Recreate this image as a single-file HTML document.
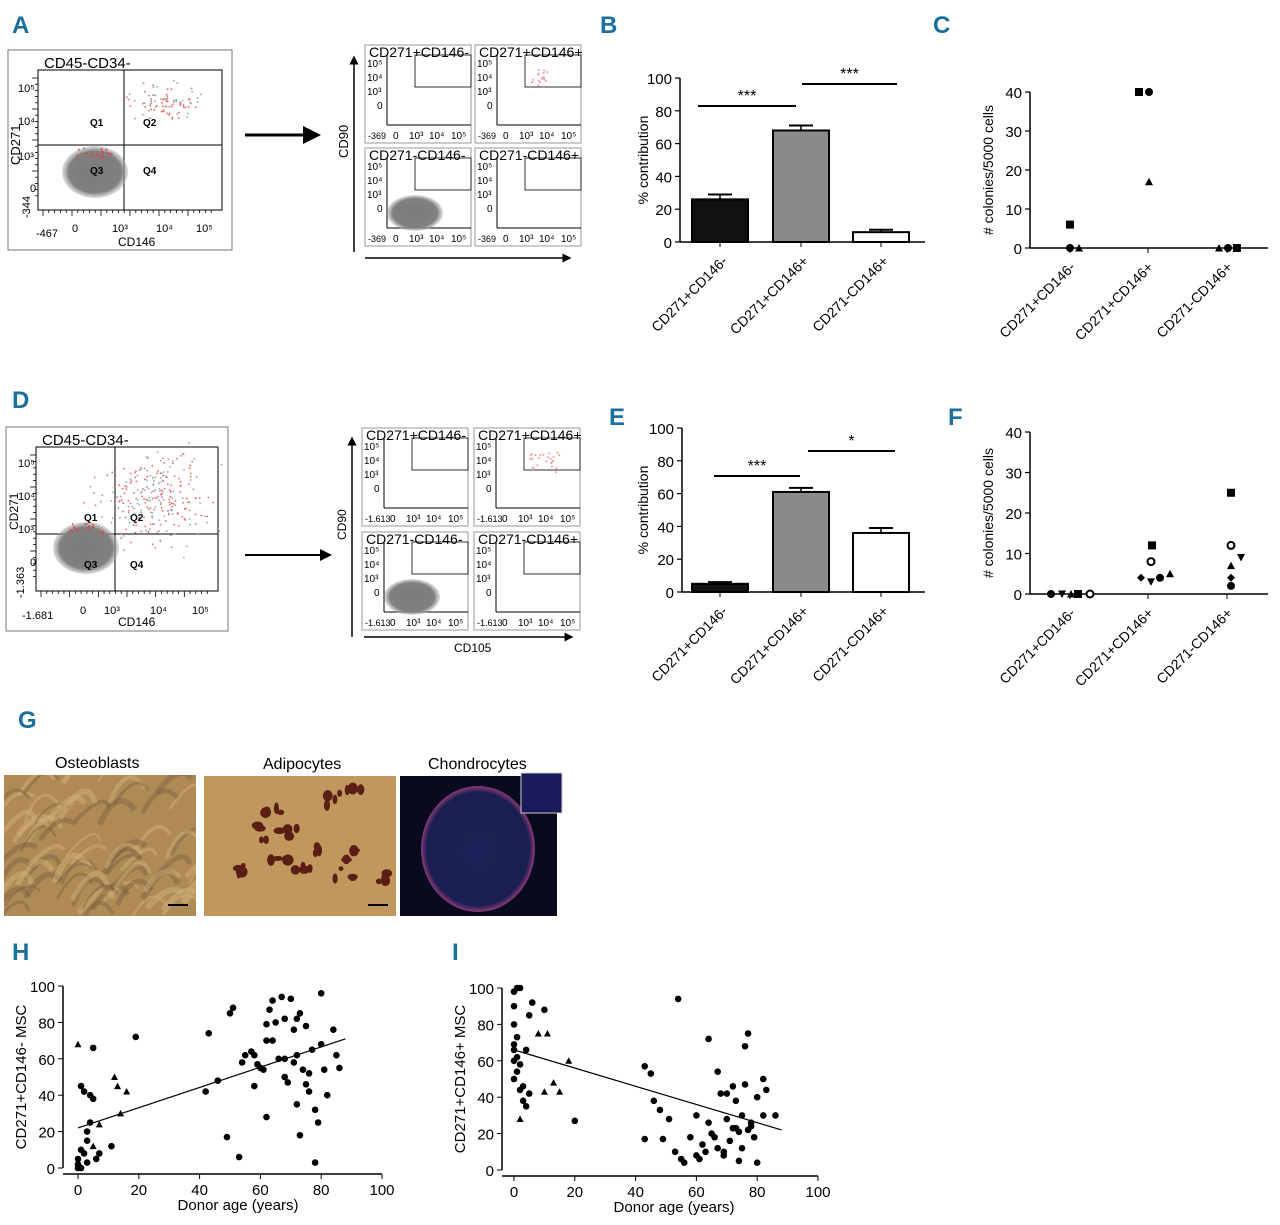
<!DOCTYPE html>
<html><head><meta charset="utf-8"><style>
html,body{margin:0;padding:0;background:#fff;width:1280px;height:1225px;overflow:hidden}
svg{display:block;font-family:"Liberation Sans Narrow","Liberation Sans",sans-serif}
.L{fill:#1a6f9e;font-weight:bold;font-size:24px;font-family:"Liberation Sans Narrow","Liberation Sans",sans-serif}
</style></head><body>
<svg id="s" width="1280" height="1225" viewBox="0 0 1280 1225" xmlns="http://www.w3.org/2000/svg">
<defs>
<marker id="ah" markerWidth="6" markerHeight="6" refX="5" refY="3" orient="auto"><path d="M0,0 L6,3 L0,6 z" fill="#000"/></marker>
<radialGradient id="blob"><stop offset="0" stop-color="#7a7a7a"/><stop offset="0.8" stop-color="#808080"/><stop offset="1" stop-color="#aaa" stop-opacity="0.4"/></radialGradient>
<radialGradient id="ch"><stop offset="0" stop-color="#1c2258"/><stop offset="0.9" stop-color="#1a1e50"/><stop offset="1" stop-color="#8a3a78"/></radialGradient>
<clipPath id="oc"><rect x="4" y="775" width="192" height="141"/></clipPath>
</defs>
<text class="L" x="12" y="33">A</text><text class="L" x="600" y="33">B</text><text class="L" x="933" y="33">C</text>
<text class="L" x="12" y="408">D</text><text class="L" x="609" y="425">E</text><text class="L" x="948" y="425">F</text>
<text class="L" x="18" y="728">G</text><text class="L" x="12" y="960">H</text><text class="L" x="452" y="960">I</text>
<g id="dyn"></g>
</svg>
<script>
const S=document.getElementById('dyn');let h='';
function t(x,y,s,fs,extra){h+=`<text x="${x}" y="${y}" font-size="${fs||13}" ${extra||''}>${s}</text>`;}
function ln(x1,y1,x2,y2,w,extra){h+=`<line x1="${x1}" y1="${y1}" x2="${x2}" y2="${y2}" stroke="#000" stroke-width="${w||1}" ${extra||''}/>`;}
let seed=3;function r(){seed=(seed*9301+49297)%233280;return seed/233280;}
function g(){return (r()+r()+r()-1.5);}
function flow(x,y,w,h2,title,ox,oy,qx,qy,labs,scat,cx,cy,sx,sy){
 h+=`<rect x="${x}" y="${y}" width="${w}" height="${h2}" fill="#fff" stroke="#777"/>`;
 t(x+36,y+18,title,15);
 const px=x+30,py=y+20,pw=w-40,ph=h2-60;
 h+=`<rect x="${px}" y="${py}" width="${pw}" height="${ph}" fill="none" stroke="#000"/>`;
 ln(qx,py,qx,py+ph);ln(px,qy,px+pw,qy);
 for(let i=0;i<scat;i++){const a=cx+g()*sx,b=cy+g()*sy;h+=`<circle cx="${a}" cy="${b}" r="0.9" fill="${r()<0.65?'#e66':'#8ab'}"/>`;}
 h+=`<ellipse cx="${ox}" cy="${oy}" rx="33" ry="26" fill="url(#blob)"/>`;
 for(let i=0;i<25;i++)h+=`<circle cx="${ox-18+r()*36}" cy="${oy-24+r()*10}" r="0.9" fill="#d44"/>`;
 labs.forEach(l=>t(l[0],l[1],l[2],l[3]||11,l[4]||''));
 for(let i=0;i<30;i++)ln(px+5+i*(pw-10)/30,py+ph,px+5+i*(pw-10)/30,py+ph+(i%5?3:6),0.8);
 for(let i=0;i<20;i++)ln(px,py+8+i*(ph-16)/20,px-(i%5?3:6),py+8+i*(ph-16)/20,0.8);
}
flow(8,50,224,200,'CD45-CD34-',95,172,124,145,[[90,126,'Q1',10,'font-weight="bold"'],[143,126,'Q2',10,'font-weight="bold"'],[90,174,'Q3',10,'font-weight="bold"'],[143,174,'Q4',10,'font-weight="bold"'],[18,92,'10⁵'],[18,125,'10⁴'],[18,160,'10³'],[30,192,'0'],[36,237,'-467'],[72,232,'0'],[112,232,'10³'],[156,232,'10⁴'],[196,232,'10⁵'],[118,246,'CD146',12],[20,165,'CD271',13,'transform="rotate(-90 20 165)"'],[30,218,'-344',11,'transform="rotate(-90 30 218)"']],90,168,102,30,18);
flow(6,427,222,204,'CD45-CD34-',86,548,115,534,[[84,521,'Q1',10,'font-weight="bold"'],[130,521,'Q2',10,'font-weight="bold"'],[84,568,'Q3',10,'font-weight="bold"'],[130,568,'Q4',10,'font-weight="bold"'],[18,467,'10⁵'],[18,500,'10⁴'],[18,533,'10³'],[30,566,'0'],[22,619,'-1.681'],[80,614,'0'],[104,614,'10³'],[150,614,'10⁴'],[192,614,'10⁵'],[118,626,'CD146',12],[18,530,'CD271',12,'transform="rotate(-90 18 530)"'],[24,598,'-1.363',11,'transform="rotate(-90 24 598)"']],260,155,500,55,45);
ln(245,135,318,135,3,'marker-end="url(#ah)"');ln(245,555,330,555,2,'marker-end="url(#ah)"');
function sub(x,y,ti,blob,lx){
 h+=`<rect x="${x}" y="${y}" width="106" height="98" fill="#fff" stroke="#999"/>`;
 t(x+4,y+12,ti,14);
 ln(x+22,y+10,x+22,y+80,1);ln(x+22,y+80,x+106,y+80,1);
 h+=`<rect x="${x+50}" y="${y+10}" width="56" height="32" fill="none" stroke="#000" stroke-width="0.8"/>`;
 t(x+2,y+22,'10⁵',10);t(x+2,y+36,'10⁴',10);t(x+2,y+50,'10³',10);t(x+12,y+64,'0',10);
 t(x+3,y+94,lx,9);t(x+28,y+94,'0',10);t(x+44,y+94,'10³',10);t(x+64,y+94,'10⁴',10);t(x+86,y+94,'10⁵',10);
 if(blob)h+=`<ellipse cx="${x+50}" cy="${y+65}" rx="28" ry="18" fill="url(#blob)"/>`;
}
sub(365,45,'CD271+CD146-',0,'-369');sub(475,45,'CD271+CD146+',0,'-369');sub(365,148,'CD271-CD146-',1,'-369');sub(475,148,'CD271-CD146+',0,'-369');
sub(362,428,'CD271+CD146-',0,'-1.613');sub(474,428,'CD271+CD146+',0,'-1.613');sub(362,532,'CD271-CD146-',1,'-1.613');sub(474,532,'CD271-CD146+',0,'-1.613');
for(let i=0;i<18;i++)h+=`<circle cx="${530+r()*18}" cy="${70+r()*18}" r="1" fill="#e99"/>`;
for(let i=0;i<25;i++)h+=`<circle cx="${530+r()*30}" cy="${452+r()*22}" r="1" fill="#e99"/>`;
ln(354,252,354,57,1.5,'marker-end="url(#ah)"');ln(365,258,570,258,1.5,'marker-end="url(#ah)"');
ln(352,637,352,438,1.5,'marker-end="url(#ah)"');ln(364,637,572,637,1.5,'marker-end="url(#ah)"');
t(348,158,'CD90',13,'transform="rotate(-90 348 158)"');t(346,540,'CD90',12,'transform="rotate(-90 346 540)"');t(454,652,'CD105',12);
function bars(ax,y0,y100,vals,errs,sig,ylab){
 const sc=(y0-y100)/100;
 ln(ax,y100,ax,y0,1.5);ln(ax,y0,925,y0,1.5);
 for(let v=0;v<=100;v+=20){const y=y0-v*sc;ln(ax-5,y,ax,y,1.2);t(ax-8,y+6,v,15,'text-anchor="end"');}
 const xs=[692,773,853],fills=['#111','#8a8a8a','#fff'];
 vals.forEach((v,i)=>{const y=y0-v*sc;ln(xs[i]+28,y-errs[i]*sc,xs[i]+28,y,1.5);ln(xs[i]+16,y-errs[i]*sc,xs[i]+40,y-errs[i]*sc,2);
 h+=`<rect x="${xs[i]}" y="${y}" width="56" height="${v*sc}" fill="${fills[i]}" stroke="#000" stroke-width="2"/>`;ln(xs[i]+28,y0,xs[i]+28,y0+5);});
 sig.forEach(s=>{ln(s[0],s[1],s[2],s[1],2);t((s[0]+s[2])/2,s[1]-5,s[3],16,'text-anchor="middle"');});
 t(648,(y0+y100)/2,ylab,14,`text-anchor="middle" transform="rotate(-90 648 ${(y0+y100)/2})"`);
 ['CD271+CD146-','CD271+CD146+','CD271-CD146+'].forEach((s,i)=>t(xs[i]+36,y0+20,s,14,`text-anchor="end" transform="rotate(-45 ${xs[i]+36} ${y0+20})"`));
}
bars(680,242,78,[26,68,6],[3,3,1.5],[[698,106,796,'***'],[802,84,897,'***']],'% contribution');
bars(682,592,428,[5,61,36],[1,2.5,3],[[714,476,800,'***'],[808,451,895,'*']],'% contribution');
function dots(ax,y0,y40,pts){
 const sc=(y0-y40)/40;ln(ax,y40,ax,y0,1.5);ln(ax,y0,1268,y0,1.5);
 for(let v=0;v<=40;v+=10){const y=y0-v*sc;ln(ax-5,y,ax,y,1.2);t(ax-8,y+6,v,15,'text-anchor="end"');}
 t(993,(y0+y40)/2,'# colonies/5000 cells',14,`text-anchor="middle" transform="rotate(-90 993 ${(y0+y40)/2})"`);
 const xs=[1070,1148,1227];
 xs.forEach((x,i)=>{ln(x,y0,x,y0+5);t(x+6,y0+20,['CD271+CD146-','CD271+CD146+','CD271-CD146+'][i],14,`text-anchor="end" transform="rotate(-45 ${x+6} ${y0+20})"`);});
 pts.forEach(p=>{const x=p[0],y=y0-p[1]*sc,k=p[2];
  if(k=='s')h+=`<rect x="${x-4}" y="${y-4}" width="8" height="8"/>`;
  else if(k=='c')h+=`<circle cx="${x}" cy="${y}" r="4"/>`;
  else if(k=='o')h+=`<circle cx="${x}" cy="${y}" r="3.5" fill="#fff" stroke="#000" stroke-width="2"/>`;
  else if(k=='t')h+=`<path d="M${x-4},${y+3.5} L${x+4},${y+3.5} L${x},${y-4}z"/>`;
  else if(k=='v')h+=`<path d="M${x-4},${y-3.5} L${x+4},${y-3.5} L${x},${y+4}z"/>`;
  else if(k=='d')h+=`<path d="M${x-4},${y} L${x},${y-4} L${x+4},${y} L${x},${y+4}z"/>`;});
}
dots(1030,248,92,[[1070,6,'s'],[1070,0,'c'],[1079,0,'t'],[1139,40,'s'],[1149,40,'c'],[1149,17,'t'],[1219,0,'t'],[1228,0,'c'],[1237,0,'s']]);
dots(1030,594,432,[[1051,0,'c'],[1062,0,'v'],[1071,0,'t'],[1078,0,'s'],[1090,0,'o'],[1152,12,'s'],[1151,8,'o'],[1141,4,'d'],[1151,3,'v'],[1160,4,'c'],[1170,5,'t'],[1231,25,'s'],[1231,12,'o'],[1241,9,'v'],[1231,7,'t'],[1231,4,'d'],[1231,2,'c']]);
t(55,768,'Osteoblasts',16);t(263,769,'Adipocytes',16);t(428,769,'Chondrocytes',16);
h+=`<rect x="4" y="775" width="192" height="141" fill="#b08a55"/><g clip-path="url(#oc)">`;
for(let i=0;i<70;i++){const x=-10+r()*200,y=780+r()*150;h+=`<path d="M${x},${y} q${15+r()*15},${-25-r()*20} ${35},${-15}" stroke="${r()<0.5?'#7a6040':'#d4b27c'}" stroke-width="${2+r()*4}" fill="none" opacity="0.45"/>`;}
h+=`</g>`;
h+=`<rect x="204" y="776" width="192" height="140" fill="#c0975d"/>`;
[[265,835],[300,868],[275,810],[315,850],[350,858],[345,878],[280,855],[330,795],[385,876],[290,830],[355,790],[240,870]].forEach(p=>{for(let k=0;k<4;k++)h+=`<ellipse cx="${p[0]+g()*10}" cy="${p[1]+g()*10}" rx="${2+r()*4}" ry="${2+r()*4}" fill="#5a1e14"/>`;});
ln(368,905,388,905,2,'stroke="#fff"');ln(168,905,188,905,2,'stroke="#fff"');
h+=`<rect x="400" y="776" width="157" height="140" fill="#0a0a1e"/><ellipse cx="478" cy="849" rx="57" ry="63" fill="url(#ch)"/><rect x="521" y="773" width="41" height="40" fill="#1a1a5a" stroke="#ccc"/>`;
function scat(ax,x0,y0,y100,pts,tris,l1,l2,ylab){
 const xs=(v)=>x0+v*3.04,ys=(v)=>y0-v*(y0-y100)/100;
 ln(ax,y100,ax,y0,1.5);ln(ax,y0+6,x0+304,y0+6,1.5);
 for(let v=0;v<=100;v+=20){ln(ax-5,ys(v),ax,ys(v));t(ax-8,ys(v)+6,v,15,'text-anchor="end"');ln(xs(v),y0+6,xs(v),y0+11);t(xs(v),y0+27,v,15,'text-anchor="middle"');}
 t(x0+160,y0+42,'Donor age (years)',15,'text-anchor="middle"');
 t(ax-37,(y0+y100)/2,ylab,15,`text-anchor="middle" transform="rotate(-90 ${ax-37} ${(y0+y100)/2})"`);
 pts.forEach(p=>h+=`<circle cx="${xs(p[0])}" cy="${ys(p[1])}" r="3.3"/>`);
 tris.forEach(p=>{const x=xs(p[0]),y=ys(p[1]);h+=`<path d="M${x-3.5},${y+3} L${x+3.5},${y+3} L${x},${y-3.5}z"/>`;});
 ln(xs(0),ys(l1),xs(88),ys(l2),1.2);
}
const hp=[[0,0],[0,2],[0,5],[1,10],[1,0],[2,8],[3,3],[3,15],[3,20],[4,25],[5,38],[5,66],[6,5],[1,45],[2,42],[4,40],[7,8],[11,12],[19,72],[42,42],[43,74],[46,48],[49,17],[50,85],[51,88],[53,6],[54,58],[55,62],[57,64],[58,62],[59,57],[60,55],[61,54],[62,79],[62,28],[63,87],[64,92],[64,70],[65,80],[66,60],[67,94],[68,50],[69,47],[70,93],[71,76],[71,58],[72,62],[73,85],[73,18],[74,54],[75,78],[76,42],[76,52],[77,65],[78,32],[78,3],[79,25],[80,96],[80,68],[81,54],[82,40],[84,76],[85,62],[86,55],[68,82],[62,70],[72,35],[75,46],[68,60],[72,82],[58,45]];
scat(63,78,1168,986,hp,[[0,68],[12,50],[13,45],[16,42],[7,24],[5,12],[14,30]],22,71,'CD271+CD146- MSC');
const ip=[[0,98],[1,100],[2,100],[0,90],[0,80],[1,73],[0,69],[0,66],[1,62],[0,60],[2,58],[1,54],[0,50],[3,46],[2,44],[3,38],[4,35],[5,42],[4,66],[5,85],[6,92],[10,88],[20,27],[43,57],[45,53],[43,17],[46,38],[48,33],[49,17],[51,28],[53,10],[54,94],[55,6],[56,4],[58,18],[60,30],[61,6],[62,14],[63,10],[64,26],[64,72],[65,20],[66,18],[67,12],[67,54],[68,42],[69,10],[70,42],[70,28],[71,16],[72,23],[72,46],[73,38],[74,21],[74,5],[75,30],[75,12],[76,47],[76,68],[77,75],[77,22],[78,26],[78,24],[79,18],[80,40],[80,4],[82,50],[82,30],[83,44],[86,30],[60,8],[69,8],[73,23]];
scat(502,514,1170,988,ip,[[2,28],[8,75],[10,43],[11,75],[15,43],[18,60],[13,48]],66,22,'CD271+CD146+ MSC');
S.innerHTML=h;
</script>
</body></html>
